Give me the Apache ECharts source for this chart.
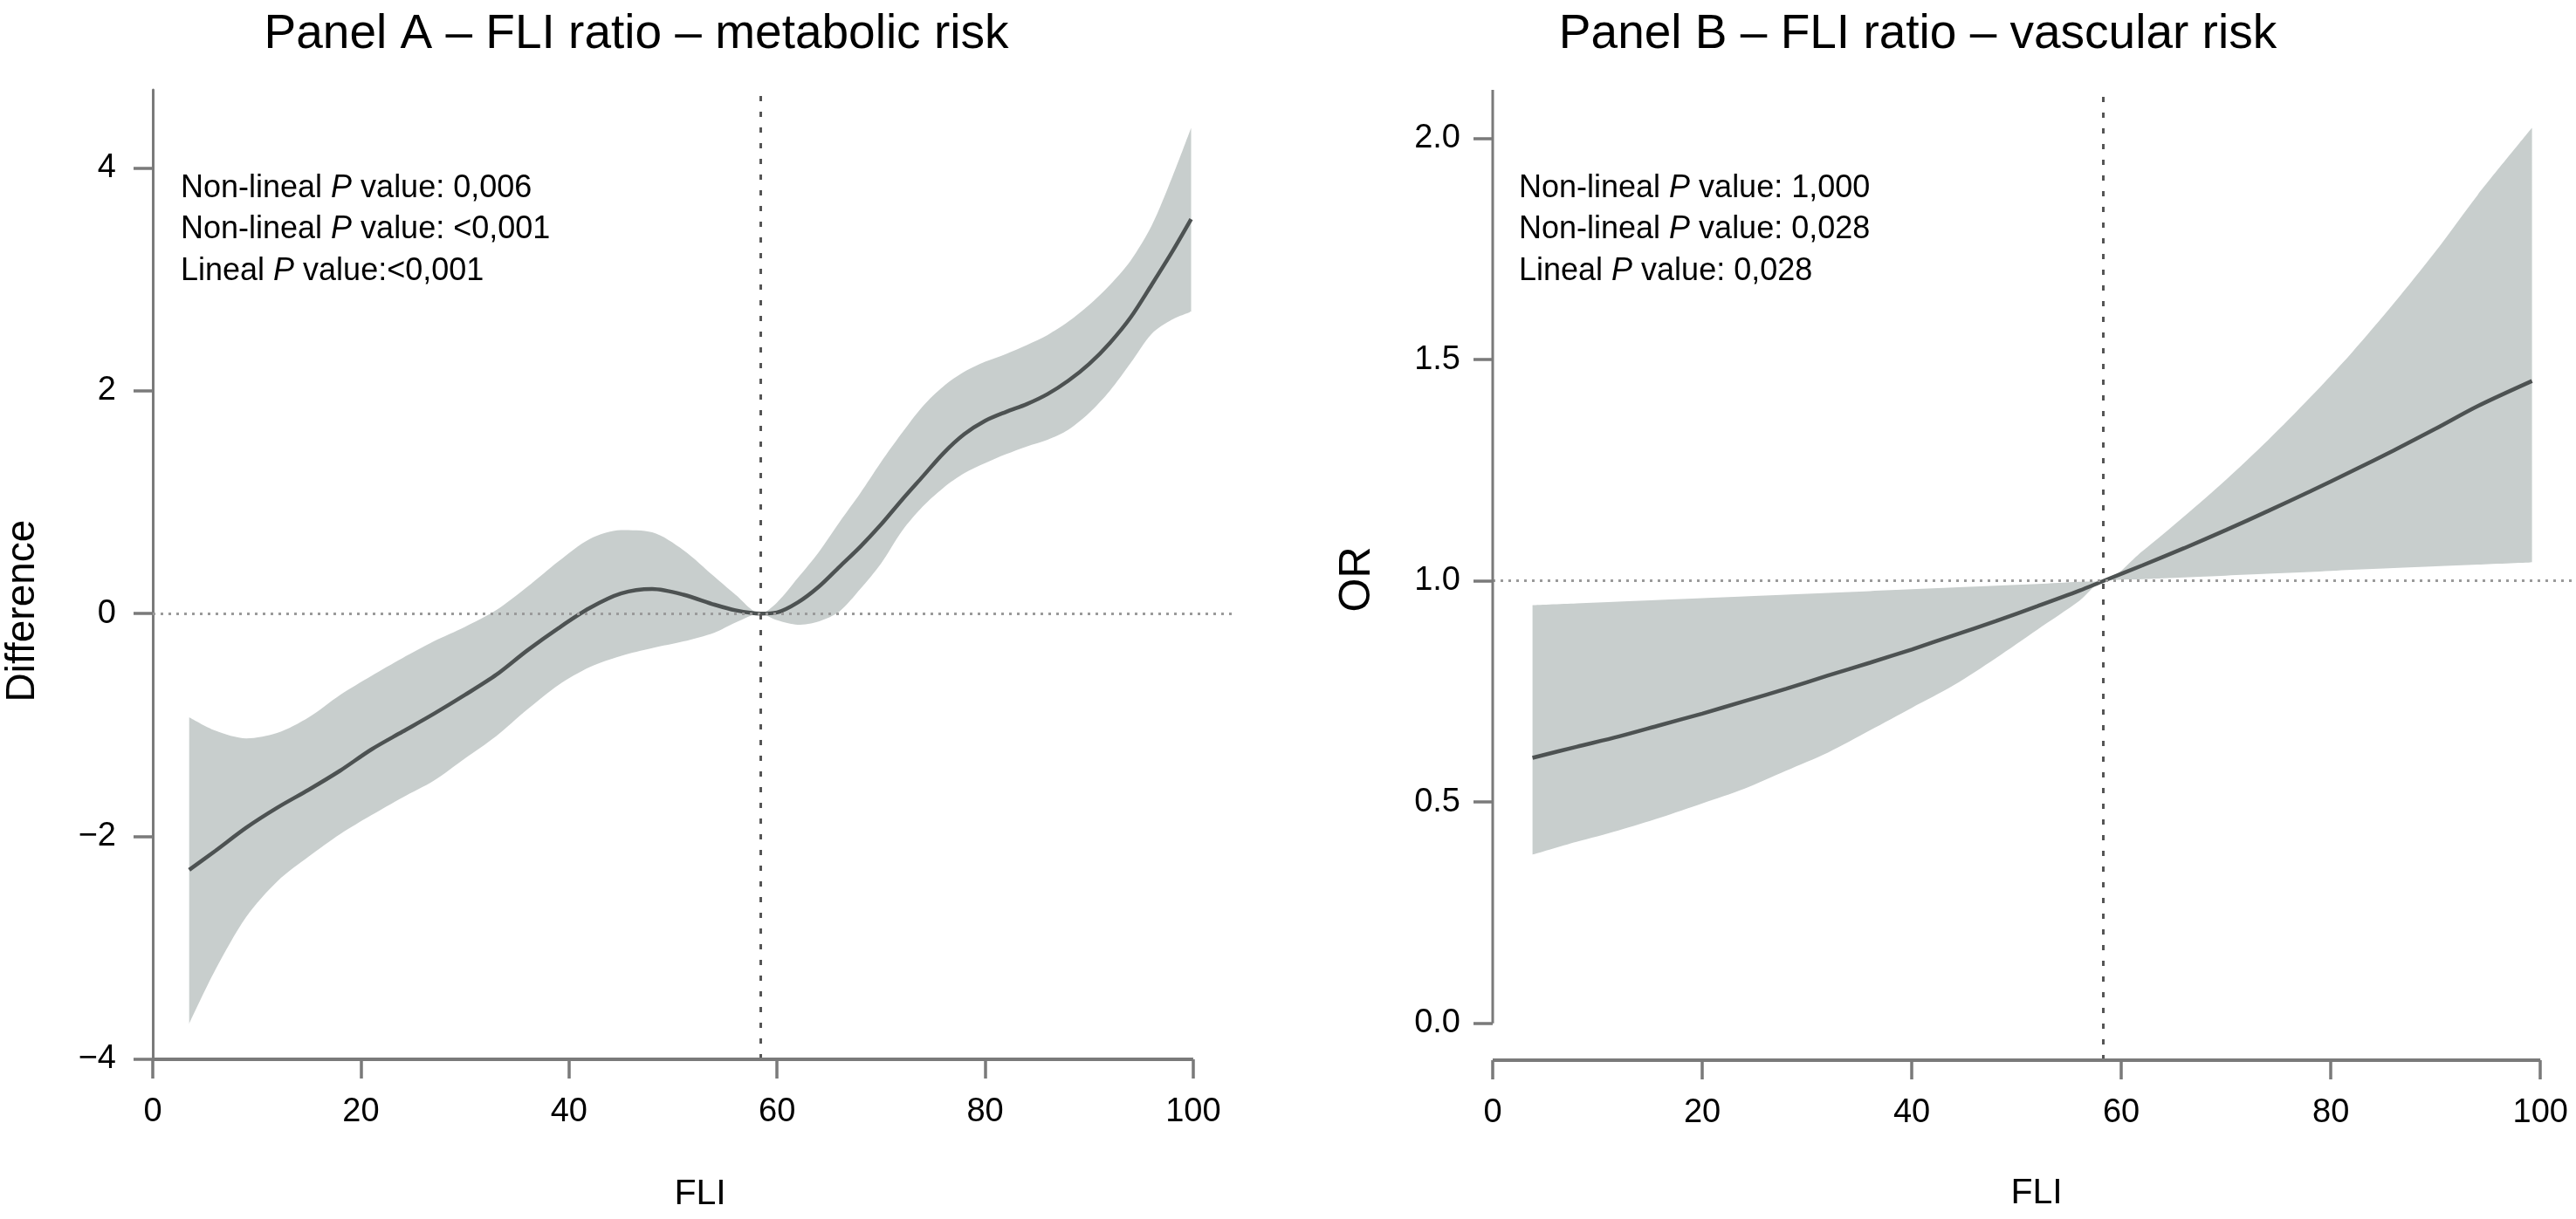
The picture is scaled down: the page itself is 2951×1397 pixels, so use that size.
<!DOCTYPE html>
<html><head><meta charset="utf-8">
<script src="https://cdn.jsdelivr.net/npm/echarts@6/dist/echarts.min.js"></script>
<style>html,body{margin:0;padding:0;background:#fff}#c{width:2951px;height:1397px}</style>
</head><body><div id="c"></div>
<script>
// ---------- Panel A data (FLI vs Difference) ----------
const fliA = [3.5,6,9,12,15,18,21,24,27,30,33,36,39,42,45,48,51,54,56,58.4,60,62,64,66,68,70,72,74,76,78,80,82,84,86,88,90,92,94,96,98,99.8];
const estA = [-2.30,-2.13,-1.92,-1.74,-1.58,-1.41,-1.22,-1.06,-0.90,-0.73,-0.55,-0.33,-0.13,0.05,0.18,0.22,0.17,0.08,0.03,0.00,0.01,0.10,0.24,0.42,0.60,0.80,1.02,1.23,1.44,1.61,1.73,1.81,1.88,1.97,2.09,2.24,2.43,2.66,2.95,3.25,3.54];
const lowA = [-3.68,-3.20,-2.72,-2.40,-2.18,-1.98,-1.81,-1.65,-1.50,-1.30,-1.10,-0.86,-0.64,-0.48,-0.38,-0.31,-0.25,-0.17,-0.08,0.00,-0.06,-0.10,-0.07,0.02,0.22,0.45,0.74,0.96,1.13,1.26,1.35,1.43,1.50,1.56,1.65,1.80,2.00,2.25,2.51,2.64,2.71];
const upA  = [-0.93,-1.05,-1.12,-1.07,-0.93,-0.73,-0.56,-0.40,-0.25,-0.12,0.03,0.24,0.47,0.67,0.75,0.73,0.57,0.33,0.17,0.00,0.10,0.32,0.55,0.82,1.08,1.36,1.62,1.86,2.04,2.17,2.26,2.33,2.41,2.50,2.62,2.77,2.95,3.17,3.48,3.92,4.36];

// ---------- Panel B data (FLI vs OR) ----------
const fliB = [3.8,8,12,16,20,24,28,32,36,40,44,48,52,56,58.3,62,66,70,74,78,82,86,90,94,99.2];
const estB = [0.600,0.625,0.648,0.674,0.700,0.728,0.756,0.786,0.815,0.845,0.877,0.909,0.943,0.978,1.000,1.035,1.074,1.115,1.158,1.202,1.248,1.295,1.344,1.395,1.452];
const lowB = [0.381,0.410,0.436,0.465,0.497,0.530,0.571,0.612,0.662,0.713,0.764,0.825,0.890,0.955,1.000,1.004,1.008,1.012,1.016,1.020,1.025,1.029,1.033,1.037,1.042];
const upB  = [0.945,0.949,0.953,0.957,0.961,0.965,0.969,0.973,0.977,0.981,0.985,0.989,0.993,0.998,1.000,1.067,1.146,1.229,1.318,1.414,1.516,1.627,1.745,1.872,2.024];

// ---------- ticks & references ----------
const xTicks = [0,20,40,60,80,100];
const yTicksA = [-4,-2,0,2,4];
const yTicksB = [0,0.5,1.0,1.5,2.0];
const refXA = 58.4, refYA = 0;
const refXB = 58.3, refYB = 1;
const titles = ['Panel A \u2013 FLI ratio \u2013 metabolic risk', 'Panel B \u2013 FLI ratio \u2013 vascular risk'];
const notesA = [['Non-lineal ','P',' value: 0,006'],['Non-lineal ','P',' value: <0,001'],['Lineal ','P',' value:<0,001']];
const notesB = [['Non-lineal ','P',' value: 1,000'],['Non-lineal ','P',' value: 0,028'],['Lineal ','P',' value: 0,028']];

const FONT = '"Liberation Sans", Arial, Helvetica, sans-serif';
const AXC = '#7a7a7a';
const BAND = '#c8cecd';
const LINEC = '#4d5252';

function pairs(xs, ys){ return xs.map((x,i)=>[x, ys[i]]); }

const chart = echarts.init(document.getElementById('c'), null, {renderer:'canvas'});

function xAxisCfg(gi, max){
  return {
    type:'value', gridIndex:gi, min:0, max:max,
    axisLine:{show:false, onZero:false},
    axisTick:{show:true, length:22, customValues:xTicks, lineStyle:{color:AXC, width:3.5}},
    axisLabel:{show:true, customValues:xTicks, margin:42, fontSize:38, fontFamily:FONT, color:'#000', lineHeight:38},
    splitLine:{show:false}
  };
}

const labelFmtB = v => v.toFixed(1);
const labelFmtA = v => (v<0 ? '\u2212'+Math.abs(v) : String(v));

// confidence band: band-coloured area under the upper limit, white mask under the lower limit
function bandSeries(xi, xs, lo, up, yMin){
  const n = xs.length - 1;
  const edge = (x, y) => ({type:'line', xAxisIndex:xi, yAxisIndex:xi, data:[[x, yMin],[x, y]], showSymbol:false, symbol:'none',
    lineStyle:{color:'#ffffff', width:3}, silent:true, z:2});
  return [
    {type:'line', xAxisIndex:xi, yAxisIndex:xi, data:pairs(xs, up), smooth:0.3, showSymbol:false, symbol:'none',
     lineStyle:{width:0, opacity:0}, areaStyle:{color:BAND, opacity:1, origin:'start'}, silent:true, z:1},
    {type:'line', xAxisIndex:xi, yAxisIndex:xi, data:pairs(xs, lo), smooth:0.3, showSymbol:false, symbol:'none',
     lineStyle:{width:0, opacity:0}, areaStyle:{color:'#ffffff', opacity:1, origin:'start'}, silent:true, z:2},
    edge(xs[0], lo[0]),
    edge(xs[n], lo[n])
  ];
}
function estSeries(xi, xs, est, rx, ry){
  return {type:'line', xAxisIndex:xi, yAxisIndex:xi, data:pairs(xs, est), smooth:0.3, showSymbol:false, symbol:'none',
    lineStyle:{color:LINEC, width:4.5}, z:3,
    markLine:{silent:true, symbol:['none','none'], label:{show:false}, z:6,
      data:[
        {yAxis:ry, lineStyle:{color:'#9a9a9a', width:3, type:[3,6]}},
        {xAxis:rx, lineStyle:{color:'#555', width:3, type:[6,12]}}
      ]}};
}

const option = {
  animation:false,
  backgroundColor:'#fff',
  grid:[
    {left:175, top:103, width:1236, height:1111, outerBoundsMode:'none', containLabel:false},
    {left:1710, top:103, width:1241, height:1112, outerBoundsMode:'none', containLabel:false}
  ],
  xAxis:[ xAxisCfg(0, 103.7), xAxisCfg(1, 103.4) ],
  yAxis:[
    {type:'value', gridIndex:0, min:-4, max:4.70,
     axisLine:{show:true, onZero:false, lineStyle:{color:AXC, width:3}},
     axisTick:{show:true, length:22, customValues:yTicksA, lineStyle:{color:AXC, width:3.5}},
     axisLabel:{show:true, customValues:yTicksA, formatter:labelFmtA, margin:42, fontSize:38, fontFamily:FONT, color:'#000'},
     splitLine:{show:false}},
    {type:'value', gridIndex:1, min:-0.0835, max:2.11,
     axisLine:{show:false, onZero:false},
     axisTick:{show:true, length:22, customValues:yTicksB, lineStyle:{color:AXC, width:3.5}},
     axisLabel:{show:true, customValues:yTicksB, formatter:labelFmtB, margin:37, fontSize:38, fontFamily:FONT, color:'#000'},
     splitLine:{show:false}}
  ],
  series:[
    ...bandSeries(0, fliA, lowA, upA, -4),
    estSeries(0, fliA, estA, refXA, refYA),
    {type:'line', xAxisIndex:0, yAxisIndex:0, data:[[xTicks[0],-4],[xTicks[xTicks.length-1],-4]], clip:false,
     showSymbol:false, symbol:'none', lineStyle:{color:AXC, width:4}, silent:true, z:7},

    ...bandSeries(1, fliB, lowB, upB, -0.0835),
    estSeries(1, fliB, estB, refXB, refYB),
    {type:'line', xAxisIndex:1, yAxisIndex:1, data:[[xTicks[0],-0.0835],[xTicks[xTicks.length-1],-0.0835]], clip:false,
     showSymbol:false, symbol:'none', lineStyle:{color:AXC, width:4}, silent:true, z:7},
    {type:'line', xAxisIndex:1, yAxisIndex:1, data:[[0,yTicksB[0]],[0,2.11]], clip:false,
     showSymbol:false, symbol:'none', lineStyle:{color:AXC, width:3}, silent:true, z:7}
  ],
  graphic:[]
};

function txt(x, y, text, size, extra){
  return Object.assign({type:'text', x:x, y:y, z:100, silent:true,
    style:{text:text, fontSize:size, fontFamily:FONT, fill:'#000', align:'center', verticalAlign:'middle'}}, extra||{});
}
function note(x, y, parts){
  return {type:'text', x:x, y:y, z:100, silent:true,
    style:{text:'{n|'+parts[0]+'}{i|'+parts[1]+'}{n|'+parts[2]+'}', align:'left', verticalAlign:'middle',
      rich:{n:{fontSize:36, fontFamily:FONT, fill:'#000', color:'#000'}, i:{fontSize:36, fontFamily:FONT, fontStyle:'italic', fill:'#000', color:'#000'}}}};
}
const g = option.graphic;
g.push(txt(729, 40, titles[0], 55));
g.push(txt(2197, 40, titles[1], 55));
g.push(txt(802, 1369, 'FLI', 41));
g.push(txt(2333, 1368, 'FLI', 41));
g.push(Object.assign(txt(26, 700, 'Difference', 46), {rotation:Math.PI/2}));
g.push(Object.assign(txt(1555, 664, 'OR', 50), {rotation:Math.PI/2}));
const noteYs = [216, 263, 311];
notesA.forEach((p,i)=>g.push(note(207, noteYs[i], p)));
notesB.forEach((p,i)=>g.push(note(1740, noteYs[i], p)));

chart.setOption(option);
</script>
</body></html>
